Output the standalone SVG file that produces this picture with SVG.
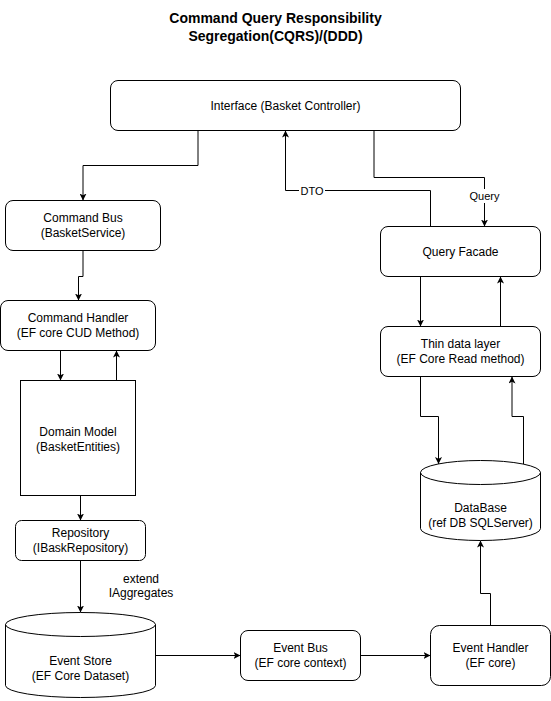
<svg xmlns="http://www.w3.org/2000/svg" width="551" height="701" viewBox="0 0 551 701">
  <style>
    .node { fill: #ffffff; stroke: #000000; stroke-width: 1; }
    .edge { fill: none; stroke: #000000; stroke-width: 1; }
    .label { font-family: "Liberation Sans", Arial, Helvetica, sans-serif; font-size: 12px; fill: #000000; text-anchor: middle; }
    .edge-label { font-family: "Liberation Sans", Arial, Helvetica, sans-serif; font-size: 11px; fill: #000000; text-anchor: middle; }
    .note { font-family: "Liberation Sans", Arial, Helvetica, sans-serif; font-size: 12px; fill: #000000; text-anchor: middle; }
    .title { font-family: "Liberation Sans", Arial, Helvetica, sans-serif; font-size: 14px; font-weight: bold; fill: #000000; text-anchor: middle; }
  </style>
  <defs>
    <marker id="arrow" viewBox="0 0 7 7" refX="7" refY="3.5" markerWidth="7" markerHeight="7" markerUnits="userSpaceOnUse" orient="auto">
      <path d="M0,0 L7,3.5 L0,7 L1.75,3.5 Z" fill="#000000"/>
    </marker>
  </defs>

  <rect width="551" height="701" fill="#ffffff"/>

  <!-- Title -->
  <g id="title">
    <text class="title" x="275.5" y="23">Command Query Responsibility</text>
    <text class="title" x="275.5" y="41">Segregation(CQRS)/(DDD)</text>
  </g>

  <!-- Connectors -->
  <g id="connectors">
    <path class="edge" d="M198,130.5 V165.5 H83 V200.5" marker-end="url(#arrow)"/>
    <path class="edge" d="M430.5,226.5 V190.5 H285.5 V130.5" marker-end="url(#arrow)"/>
    <path class="edge" d="M374,130.5 V177.5 H484.5 V226.5" marker-end="url(#arrow)"/>
    <path class="edge" d="M83,250.5 V276.5 H78.5 V300.5" marker-end="url(#arrow)"/>
    <path class="edge" d="M60.5,350.5 V380.5" marker-end="url(#arrow)"/>
    <path class="edge" d="M116.5,380.5 V350.5" marker-end="url(#arrow)"/>
    <path class="edge" d="M80.5,495.5 V520.5" marker-end="url(#arrow)"/>
    <path class="edge" d="M80.5,560.5 V612.5" marker-end="url(#arrow)"/>
    <path class="edge" d="M420.5,276.5 V326.5" marker-end="url(#arrow)"/>
    <path class="edge" d="M500.5,326.5 V276.5" marker-end="url(#arrow)"/>
    <path class="edge" d="M420.5,376.5 V416.5 H438.5 V464" marker-end="url(#arrow)"/>
    <path class="edge" d="M523.5,464 V416.5 H512 V376.5" marker-end="url(#arrow)"/>
    <path class="edge" d="M155.5,655.5 H240.5" marker-end="url(#arrow)"/>
    <path class="edge" d="M360.5,655.5 H430.5" marker-end="url(#arrow)"/>
    <path class="edge" d="M490.5,625.5 V593.5 H480.5 V540.5" marker-end="url(#arrow)"/>

    <rect x="299" y="184" width="26" height="13" fill="#ffffff"/>
    <text class="edge-label" x="312" y="194.5">DTO</text>
    <rect x="468" y="189" width="33" height="14" fill="#ffffff"/>
    <text class="edge-label" x="484.5" y="200">Query</text>
    <text class="note" x="141" y="582.5">extend</text>
    <text class="note" x="141" y="597">IAggregates</text>
  </g>

  <!-- Nodes -->
  <g id="interface">
    <rect class="node" x="110.5" y="80.5" width="350" height="50" rx="7.5"/>
    <text class="label" x="285.5" y="109.5">Interface (Basket Controller)</text>
  </g>

  <g id="command-bus">
    <rect class="node" x="5.5" y="200.5" width="155" height="50" rx="7.5"/>
    <text class="label" x="83" y="222">Command Bus</text>
    <text class="label" x="83" y="237">(BasketService)</text>
  </g>

  <g id="query-facade">
    <rect class="node" x="380.5" y="226.5" width="160" height="50" rx="7.5"/>
    <text class="label" x="460.5" y="255.5">Query Facade</text>
  </g>

  <g id="command-handler">
    <rect class="node" x="0.5" y="300.5" width="155" height="50" rx="7.5"/>
    <text class="label" x="78" y="322">Command Handler</text>
    <text class="label" x="78" y="337">(EF core CUD Method)</text>
  </g>

  <g id="thin-data-layer">
    <rect class="node" x="380.5" y="326.5" width="160" height="50" rx="7.5"/>
    <text class="label" x="460.5" y="348">Thin data layer</text>
    <text class="label" x="460.5" y="363">(EF Core Read method)</text>
  </g>

  <g id="domain-model">
    <rect class="node" x="20.5" y="380.5" width="115" height="115"/>
    <text class="label" x="78" y="435.5">Domain Model</text>
    <text class="label" x="78" y="450.5">(BasketEntities)</text>
  </g>

  <g id="repository">
    <rect class="node" x="15.5" y="520.5" width="130" height="40" rx="6"/>
    <text class="label" x="80.5" y="537">Repository</text>
    <text class="label" x="80.5" y="552">(IBaskRepository)</text>
  </g>

  <g id="database">
    <path class="node" d="M420.5,472.5 A60,12 0 0 1 540.5,472.5 V528.5 A60,12 0 0 1 420.5,528.5 Z"/>
    <path class="edge" d="M420.5,472.5 A60,12 0 0 0 540.5,472.5"/>
    <text class="label" x="480.5" y="512">DataBase</text>
    <text class="label" x="480.5" y="526.5">(ref DB SQLServer)</text>
  </g>

  <g id="event-store">
    <path class="node" d="M5.5,624.5 A75,12 0 0 1 155.5,624.5 V685.5 A75,12 0 0 1 5.5,685.5 Z"/>
    <path class="edge" d="M5.5,624.5 A75,12 0 0 0 155.5,624.5"/>
    <text class="label" x="80.5" y="664.5">Event Store</text>
    <text class="label" x="80.5" y="679.5">(EF Core Dataset)</text>
  </g>

  <g id="event-bus">
    <rect class="node" x="240.5" y="630.5" width="120" height="50" rx="7.5"/>
    <text class="label" x="300.5" y="651.5">Event Bus</text>
    <text class="label" x="300.5" y="666.5">(EF core context)</text>
  </g>

  <g id="event-handler">
    <rect class="node" x="430.5" y="625.5" width="120" height="60" rx="9"/>
    <text class="label" x="490.5" y="651.5">Event Handler</text>
    <text class="label" x="490.5" y="666.5">(EF core)</text>
  </g>
</svg>
